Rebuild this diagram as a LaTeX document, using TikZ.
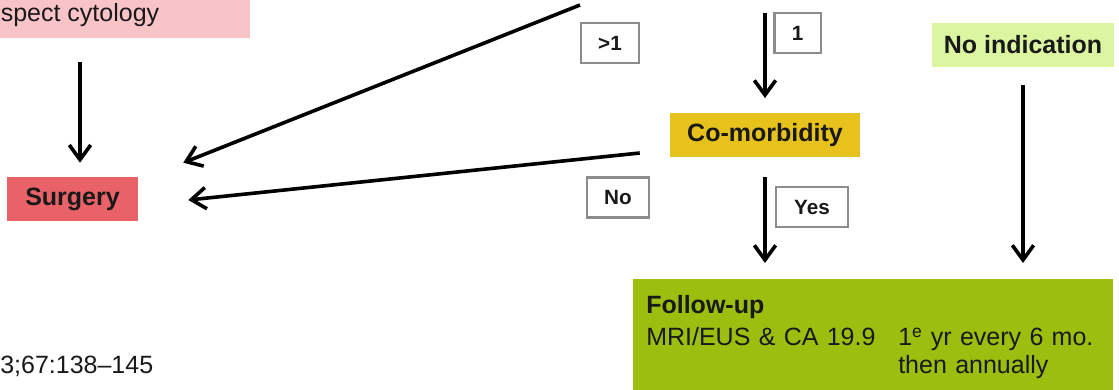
\documentclass[tikz,border=0pt]{standalone}
\usepackage{fontspec}
\setmainfont{Liberation Sans}
\usetikzlibrary{arrows.meta,calc}
\newlength\pxu
\setlength\pxu{0.75pt}
\definecolor{cytopink}{RGB}{249,196,200}
\definecolor{surgred}{RGB}{232,98,104}
\definecolor{comgold}{RGB}{232,194,28}
\definecolor{noindgreen}{RGB}{220,245,160}
\definecolor{fugreen}{RGB}{155,190,15}
\definecolor{lblgray}{RGB}{140,140,140}
\definecolor{txt}{RGB}{25,25,25}
\tikzset{
  box/.style={inner sep=0pt, minimum height=44\pxu, text=txt},
  lbl/.style={draw=lblgray, line width=1.6pt, fill=white, text=txt, inner xsep=13pt, inner ysep=0pt, minimum height=30pt, font=\fontsize{15.5pt}{18pt}\selectfont\bfseries},
  arr/.style={line width=2.7pt, -{Straight Barb[length=11pt,width=16pt]}}
}
\begin{document}
\begin{tikzpicture}[x=0.75pt, y=-0.75pt, font=\fontsize{18.75pt}{21pt}\selectfont]
\useasboundingbox (0,0) rectangle (1119,389);
\node[box, fill=cytopink, minimum width=340\pxu, minimum height=45\pxu] (cyto) at (80,15.5){spect cytology};
\node[box, fill=surgred, minimum width=131\pxu, font=\fontsize{18.75pt}{21pt}\selectfont\bfseries] (surg) at (72.5,199){Surgery};
\node[box, fill=comgold, minimum width=190\pxu, font=\fontsize{18.75pt}{21pt}\selectfont\bfseries] (comorb) at (765,135){Co-morbidity};
\node[box, fill=noindgreen, minimum width=182\pxu, font=\fontsize{18.75pt}{21pt}\selectfont\bfseries] (noind) at (1023,45){No indication};
\node[fill=fugreen, text=txt, anchor=north west, inner xsep=13\pxu, inner ysep=16\pxu, text width=454\pxu, align=left] (fu) at (633,279){\textbf{Follow-up}\\[3pt]
\makebox[189pt][l]{MRI/EUS \& CA 19.9}1\textsuperscript{e} yr every 6 mo.\\
\hspace*{189pt}then annually};
\node[lbl, minimum width=58\pxu] (lgt) at (610,43){>1};
\node[lbl, minimum width=45\pxu] (lone) at (797.5,33){1};
\node[lbl, minimum width=62\pxu] (lno) at (618,197.5){No};
\node[lbl, minimum width=72\pxu] (lyes) at (812,207){Yes};
\node[anchor=base west, inner sep=0pt, text=txt] (cite) at (0,373){3;67:138–145};
\coordinate (topgt) at (580,5);
\coordinate (topone) at (765,13);
\draw[arr, shorten <=18pt, shorten >=10.5pt](cyto.south) -- (cyto.south |- surg.north);
\draw[arr](topgt) -- ($(surg.north east)+(45,-14)$);
\draw[arr]($(comorb.west)+(-30,18)$) -- ($(surg.east)+(50,1)$);
\draw[arr, shorten >=11pt](topone) -- (comorb.north);
\draw[arr, shorten <=15pt, shorten >=12pt](comorb.south) -- (comorb.south |- fu.north);
\draw[arr, shorten <=13.5pt, shorten >=12pt](noind.south) -- (noind.south |- fu.north);
\end{tikzpicture}
\end{document}
